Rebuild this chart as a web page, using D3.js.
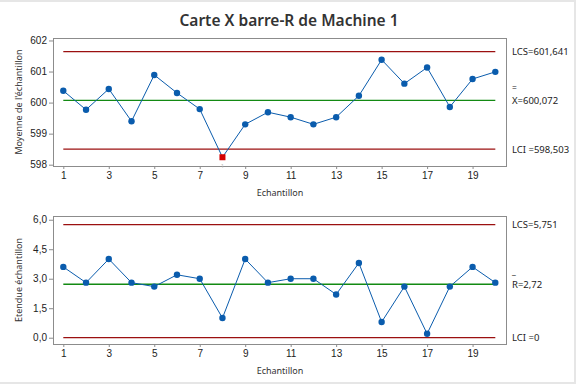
<!DOCTYPE html>
<html><head><meta charset="utf-8">
<script src="https://cdn.jsdelivr.net/npm/d3@7"></script>
<style>
html,body{margin:0;padding:0;background:#fff;}
svg{display:block;font-family:"Noto Sans","Open Sans",sans-serif;}
</style></head>
<body><svg id="c" width="576" height="384"></svg>
<script>
const samples = d3.range(1, 21);
const xTicks = [1,3,5,7,9,11,13,15,17,19];
const means = [600.38,599.77,600.44,599.40,600.89,600.31,599.79,598.24,599.30,599.69,599.53,599.30,599.53,600.22,601.38,600.61,601.13,599.86,600.76,600.99];
const ranges = [3.6,2.8,4.0,2.8,2.6,3.2,3.0,1.0,4.0,2.8,3.0,3.0,2.2,3.8,0.8,2.6,0.2,2.6,3.6,2.8];
const xbarLimits = {lcs:601.641, center:600.072, lci:598.503};
const rLimits = {lcs:5.751, center:2.72, lci:0};
const xbarTicks = [598,599,600,601,602];
const rTicks = [0,1.5,3.0,4.5,6.0];
const outOfControl = [8];

const svg = d3.select("#c");
const W=576,H=384;
svg.append("rect").attr("x",0).attr("y",0).attr("width",W).attr("height",H).attr("fill","#e6e6e6");
svg.append("rect").attr("x",0).attr("y",2).attr("width",574).attr("height",380).attr("fill","#fff");

svg.append("text").attr("x",289).attr("y",26).attr("text-anchor","middle")
  .attr("font-size",15.5).attr("font-weight",600).attr("fill","#333")
  .text("Carte X barre-R de Machine 1");

const x = d3.scaleLinear().domain([0.547,20.47]).range([53,506]);
const fmt = d => d3.format(".1f")(d).replace(".",",");

function panel(opts){
  const {top,bottom,domain,ticks,tickFmt,values,limits,ylabel,labels} = opts;
  const y = d3.scaleLinear().domain(domain).range([bottom,top]);
  const g = svg.append("g");
  g.append("rect").attr("x",53).attr("y",top).attr("width",453).attr("height",bottom-top)
    .attr("fill","none").attr("stroke","#8c8c8c").attr("stroke-width",1).attr("shape-rendering","crispEdges");
  const ya = g.append("g").attr("transform","translate(53,0)")
    .call(d3.axisLeft(y).tickValues(ticks).tickFormat(tickFmt).tickSize(4).tickPadding(2));
  ya.select(".domain").remove();
  ya.selectAll("line").attr("stroke","#8c8c8c");
  ya.selectAll("text").attr("font-size",10).attr("fill","#222");
  const xa = g.append("g").attr("transform",`translate(0,${bottom})`)
    .call(d3.axisBottom(x).tickValues(xTicks).tickFormat(d3.format("d")).tickSize(3).tickPadding(3));
  xa.select(".domain").remove();
  xa.selectAll("line").attr("stroke","#8c8c8c");
  xa.selectAll("text").attr("font-size",10).attr("fill","#222");
  const lims = [[limits.lcs,"#9b1010"],[limits.center,"#138a13"],[limits.lci,"#9b1010"]];
  lims.forEach(([v,c])=>{
    g.append("line").attr("x1",x(1)).attr("x2",x(20)).attr("y1",y(v)).attr("y2",y(v))
      .attr("stroke",c).attr("stroke-width",1.3);
  });
  g.append("path").datum(values)
    .attr("d",d3.line().x((d,i)=>x(samples[i])).y(d=>y(d)))
    .attr("fill","none").attr("stroke","#0a5cad").attr("stroke-width",1);
  values.forEach((v,i)=>{
    const s = samples[i];
    if(opts.flag && outOfControl.includes(s)){
      g.append("rect").attr("x",x(s)-3).attr("y",y(v)-3).attr("width",6).attr("height",6).attr("fill","#d40000");
      g.append("text").attr("x",x(s)).attr("y",bottom+2).attr("text-anchor","middle")
        .attr("font-size",6).attr("fill","#bbb").text("1");
    } else {
      g.append("circle").attr("cx",x(s)).attr("cy",y(v)).attr("r",3.2).attr("fill","#0a5cad");
    }
  });
  g.append("text").attr("transform",`translate(${opts.ylx},${(top+bottom)/2}) rotate(-90)`)
    .attr("text-anchor","middle").attr("font-size",9).attr("fill","#333").text(ylabel);
  g.append("text").attr("x",280).attr("y",bottom+30).attr("text-anchor","middle")
    .attr("font-size",9).attr("fill","#333").text("Echantillon");
  const lx = 512;
  g.append("text").attr("x",lx).attr("y",y(limits.lcs)+3.5).attr("font-size",9.5).attr("fill","#222").text(labels[0]);
  g.append("text").attr("x",lx).attr("y",y(limits.center)+opts.barDy).attr("font-size",8.5).attr("fill","#222").text(labels[1]);
  g.append("text").attr("x",lx).attr("y",y(limits.center)+3.5).attr("font-size",9.5).attr("fill","#222").text(labels[2]);
  g.append("text").attr("x",lx).attr("y",y(limits.lci)+3.5).attr("font-size",9.5).attr("fill","#222").text(labels[3]);
}

panel({top:38,bottom:166,domain:[597.958,602.08],ticks:xbarTicks,tickFmt:d3.format("d"),
  values:means,limits:xbarLimits,ylabel:"Moyenne de l'échantillon",ylx:22,flag:true,barDy:-9.5,
  labels:["LCS=601,641","=","X=600,072","LCI =598,503"]});
panel({top:216,bottom:344,domain:[-0.32,6.19],ticks:rTicks,tickFmt:fmt,
  values:ranges,limits:rLimits,ylabel:"Etendue échantillon",ylx:22,flag:false,barDy:-10.5,
  labels:["LCS=5,751","_","R=2,72","LCI =0"]});
</script></body></html>
